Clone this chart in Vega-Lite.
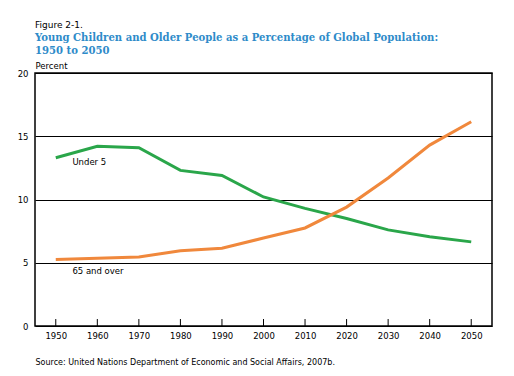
{
  "$schema": "https://vega.github.io/schema/vega-lite/v6.json",
  "width": 457,
  "height": 253,
  "autosize": {"type": "none"},
  "padding": {"left": 35, "top": 73, "right": 22, "bottom": 50},
  "background": "white",
  "config": {
    "view": {"stroke": "#000000", "strokeWidth": 1.5},
    "font": "DejaVu Sans"
  },
  "title": {
    "text": "Figure 2-1.",
    "subtitle": ["Young Children and Older People as a Percentage of Global Population:", "1950 to 2050"],
    "anchor": "start",
    "frame": "group",
    "font": "DejaVu Sans",
    "fontSize": 9,
    "fontWeight": "normal",
    "color": "#000000",
    "subtitleFont": "DejaVu Serif Condensed",
    "subtitleFontSize": 11.2,
    "subtitleFontWeight": "bold",
    "subtitleColor": "#2e8bc9",
    "subtitlePadding": 2,
    "subtitleLineHeight": 12.5,
    "offset": 5
  },
  "datasets": {
    "pop": [
      {"year": 1950, "group": "Under 5", "pct": 13.3},
      {"year": 1960, "group": "Under 5", "pct": 14.2},
      {"year": 1970, "group": "Under 5", "pct": 14.1},
      {"year": 1980, "group": "Under 5", "pct": 12.3},
      {"year": 1990, "group": "Under 5", "pct": 11.9},
      {"year": 2000, "group": "Under 5", "pct": 10.2},
      {"year": 2010, "group": "Under 5", "pct": 9.3},
      {"year": 2020, "group": "Under 5", "pct": 8.5},
      {"year": 2030, "group": "Under 5", "pct": 7.6},
      {"year": 2040, "group": "Under 5", "pct": 7.05},
      {"year": 2050, "group": "Under 5", "pct": 6.65},
      {"year": 1950, "group": "65 and over", "pct": 5.25},
      {"year": 1960, "group": "65 and over", "pct": 5.35},
      {"year": 1970, "group": "65 and over", "pct": 5.45},
      {"year": 1980, "group": "65 and over", "pct": 5.95},
      {"year": 1990, "group": "65 and over", "pct": 6.15},
      {"year": 2000, "group": "65 and over", "pct": 6.95},
      {"year": 2010, "group": "65 and over", "pct": 7.75},
      {"year": 2020, "group": "65 and over", "pct": 9.4},
      {"year": 2030, "group": "65 and over", "pct": 11.7},
      {"year": 2040, "group": "65 and over", "pct": 14.3},
      {"year": 2050, "group": "65 and over", "pct": 16.15}
    ],
    "labels": [
      {"year": 1954, "pct": 12.95, "label": "Under 5"},
      {"year": 1954, "pct": 4.35, "label": "65 and over"}
    ],
    "ticks": [
      {"year": 1950}, {"year": 1960}, {"year": 1970}, {"year": 1980}, {"year": 1990}, {"year": 2000},
      {"year": 2010}, {"year": 2020}, {"year": 2030}, {"year": 2040}, {"year": 2050}
    ]
  },
  "layer": [
    {
      "data": {"name": "pop"},
      "mark": {"type": "line", "strokeWidth": 3},
      "encoding": {
        "x": {
          "field": "year", "type": "quantitative",
          "scale": {"domain": [1945, 2055], "nice": false, "zero": false},
          "axis": {
            "values": [1950, 1960, 1970, 1980, 1990, 2000, 2010, 2020, 2030, 2040, 2050],
            "format": "d", "ticks": false, "grid": false, "domain": false,
            "labelFontSize": 8.5, "labelColor": "#000000", "labelPadding": 5,
            "title": "Source: United Nations Department of Economic and Social Affairs, 2007b.",
            "titleFontSize": 8, "titleFontWeight": "normal", "titleColor": "#000000",
            "titleAnchor": "start", "titleAlign": "left", "titleX": 0, "titleY": 32
          }
        },
        "y": {
          "field": "pct", "type": "quantitative",
          "scale": {"domain": [0, 20], "nice": false},
          "axis": {
            "values": [0, 5, 10, 15, 20], "ticks": false, "domain": false,
            "grid": true, "gridColor": "#000000", "gridOpacity": 1, "gridWidth": 1.2,
            "labelFontSize": 8.5, "labelColor": "#000000", "labelPadding": 7,
            "title": "Percent", "titleAngle": 0, "titleAlign": "left", "titleAnchor": "start",
            "titleX": 0, "titleY": -3, "titleBaseline": "bottom",
            "titleFontSize": 8.5, "titleFontWeight": "normal", "titleColor": "#000000"
          }
        },
        "color": {
          "field": "group", "type": "nominal",
          "scale": {"domain": ["Under 5", "65 and over"], "range": ["#2aa64a", "#f0883c"]},
          "legend": null
        }
      }
    },
    {
      "data": {"name": "ticks"},
      "mark": {"type": "rule", "color": "#000000", "strokeWidth": 1},
      "encoding": {
        "x": {"field": "year", "type": "quantitative"},
        "y": {"datum": 0},
        "y2": {"datum": 0.55}
      }
    },
    {
      "data": {"name": "labels"},
      "mark": {"type": "text", "align": "left", "baseline": "middle", "fontSize": 8.5, "color": "#000000"},
      "encoding": {
        "x": {"field": "year", "type": "quantitative"},
        "y": {"field": "pct", "type": "quantitative"},
        "text": {"field": "label"}
      }
    }
  ]
}
